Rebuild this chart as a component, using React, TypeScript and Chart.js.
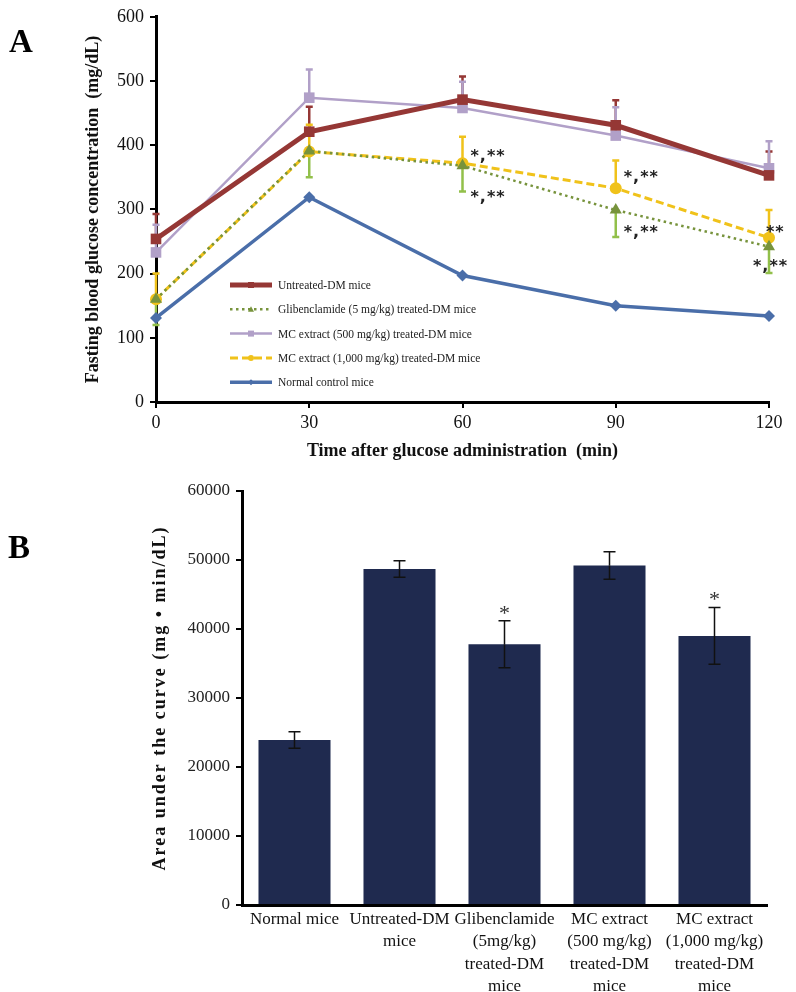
import React, { useEffect, useRef } from 'react';
import { Chart, registerables } from 'chart.js';

Chart.register(...registerables);

// ---------- Panel A data ----------
const timePoints = [0, 30, 60, 90, 120];
const untreatedDM = [254, 421, 471, 431, 353];
const untreatedErr = [39, 39, 36, 39, 37];
const glibenclamide = [160, 391, 368, 299, 242];
const glibErr = [40, 41, 40, 42, 41];
const mc500 = [233, 474, 458, 415, 364];
const mc500Err = [43, 44, 41, 44, 42];
const mc1000 = [160, 390, 372, 333, 256];
const mc1000Err = [40, 42, 41, 43, 43];
const normalControl = [131, 319, 197, 150, 134];
const glibSig = ['', '', '*,**', '*,**', '*,**'];
const mc1000Sig = ['', '', '*,**', '*,**', '**'];
const seriesLabels = [
  'Untreated-DM mice',
  'Glibenclamide (5 mg/kg) treated-DM mice',
  'MC extract (500 mg/kg) treated-DM mice',
  'MC extract (1,000 mg/kg) treated-DM mice',
  'Normal control mice',
];

// ---------- Panel B data ----------
const aucGroups = [
  ['Normal mice'],
  ['Untreated-DM', 'mice'],
  ['Glibenclamide', '(5mg/kg)', 'treated-DM', 'mice'],
  ['MC extract', '(500 mg/kg)', 'treated-DM', 'mice'],
  ['MC extract', '(1,000 mg/kg)', 'treated-DM', 'mice'],
];
const aucValues = [23900, 48700, 37800, 49200, 39000];
const aucErr = [1200, 1200, 3400, 2000, 4100];
const aucSig = ['', '', '*', '', '*'];

// ---------- styles ----------
const SERIF = '"Liberation Serif", "Times New Roman", serif';
const SANS = '"DejaVu Sans", sans-serif';
const RED = '#953735';
const GREEN = '#77933c';
const GREEN_ERR = '#92c04a';
const LAVENDER = '#b1a0c8';
const YELLOW = '#f0c21a';
const BLUE = '#4a6ea9';
const NAVY = '#1f2a4f';

const errorBarPlugin = {
  id: 'errorBars',
  beforeDatasetsDraw(chart: any) {
    drawErrors(chart, 'before');
  },
  afterDatasetsDraw(chart: any) {
    drawErrors(chart, 'after');
    drawSig(chart);
  },
};

function drawErrors(chart: any, phase: string) {
  const ctx = chart.ctx;
  const yScale = chart.scales.y;
  chart.data.datasets.forEach((ds: any, i: number) => {
    const eb = ds.errorBars;
    if (!eb || eb.phase !== phase) return;
    const meta = chart.getDatasetMeta(i);
    ctx.save();
    ctx.strokeStyle = eb.color;
    ctx.lineWidth = eb.width;
    ctx.setLineDash([]);
    meta.data.forEach((el: any, j: number) => {
      const v = ds.data[j];
      const val = typeof v === 'number' ? v : v.y;
      const e = eb.values[j];
      if (!e) return;
      const x = el.x;
      const ends: number[] = [];
      if (eb.dir === 'up' || eb.dir === 'both') ends.push(val + e);
      if (eb.dir === 'down' || eb.dir === 'both') ends.push(val - e);
      ends.forEach((end) => {
        const y0 = yScale.getPixelForValue(val);
        const y1 = yScale.getPixelForValue(end);
        ctx.beginPath();
        ctx.moveTo(x, y0);
        ctx.lineTo(x, y1);
        ctx.moveTo(x - eb.cap, y1);
        ctx.lineTo(x + eb.cap, y1);
        ctx.stroke();
      });
    });
    ctx.restore();
  });
}

function drawSig(chart: any) {
  const ctx = chart.ctx;
  const yScale = chart.scales.y;
  chart.data.datasets.forEach((ds: any, i: number) => {
    const s = ds.sigLabels;
    if (!s) return;
    const meta = chart.getDatasetMeta(i);
    ctx.save();
    ctx.font = s.font;
    ctx.fillStyle = s.color;
    ctx.textAlign = s.align;
    ctx.textBaseline = 'middle';
    (ctx as any).letterSpacing = s.letterSpacing || '0px';
    meta.data.forEach((el: any, j: number) => {
      const t = s.texts[j];
      if (!t) return;
      let y = el.y;
      if (s.anchor === 'errTop') {
        const v = ds.data[j];
        const val = typeof v === 'number' ? v : v.y;
        y = yScale.getPixelForValue(val + ds.errorBars.values[j]);
      }
      const off = s.offsets[j];
      ctx.fillText(t, el.x + off[0], y + off[1]);
    });
    ctx.restore();
  });
}

function drawMarker(ctx: any, style: string, x: number, y: number, r: number, color: string) {
  ctx.fillStyle = color;
  ctx.beginPath();
  if (style === 'rect') {
    ctx.rect(x - r, y - r, 2 * r, 2 * r);
  } else if (style === 'circle') {
    ctx.arc(x, y, r, 0, Math.PI * 2);
  } else if (style === 'triangle') {
    ctx.moveTo(x, y - r);
    ctx.lineTo(x + r, y + r * 0.8);
    ctx.lineTo(x - r, y + r * 0.8);
    ctx.closePath();
  } else if (style === 'rectRot') {
    ctx.moveTo(x, y - r);
    ctx.lineTo(x + r, y);
    ctx.lineTo(x, y + r);
    ctx.lineTo(x - r, y);
    ctx.closePath();
  }
  ctx.fill();
}

const insideLegend = {
  id: 'insideLegend',
  afterDraw(chart: any, _args: any, opts: any) {
    if (!opts || !opts.display) return;
    const ctx = chart.ctx;
    ctx.save();
    chart.data.datasets.forEach((ds: any, i: number) => {
      const y = opts.y + i * opts.rowGap;
      const x0 = opts.x;
      const x1 = opts.x + opts.lineLen;
      ctx.strokeStyle = ds.borderColor;
      ctx.lineWidth = ds.borderWidth;
      ctx.setLineDash(ds.borderDash || []);
      ctx.beginPath();
      ctx.moveTo(x0, y);
      ctx.lineTo(x1, y);
      ctx.stroke();
      ctx.setLineDash([]);
      drawMarker(ctx, ds.pointStyle, (x0 + x1) / 2, y, 3, ds.pointBackgroundColor);
      ctx.fillStyle = opts.color;
      ctx.font = opts.font;
      ctx.textAlign = 'left';
      ctx.textBaseline = 'middle';
      ctx.fillText(ds.label, x1 + opts.gap, y + 1);
    });
    ctx.restore();
  },
};

const rotatedTitle = {
  id: 'rotatedTitle',
  afterDraw(chart: any, _args: any, opts: any) {
    if (!opts || !opts.text) return;
    const ctx = chart.ctx;
    const ca = chart.chartArea;
    ctx.save();
    ctx.translate(opts.x, (ca.top + ca.bottom) / 2);
    ctx.rotate(-Math.PI / 2);
    ctx.font = opts.font;
    ctx.fillStyle = opts.color;
    ctx.textAlign = 'center';
    ctx.textBaseline = 'middle';
    (ctx as any).letterSpacing = opts.letterSpacing || '0px';
    ctx.fillText(opts.text, 0, 0);
    ctx.restore();
  },
};

function pts(vals: number[]) {
  return timePoints.map((t, i) => ({ x: t, y: vals[i] }));
}

const plainTick = (v: any) => String(v);

export default function App() {
  const refA = useRef<HTMLCanvasElement>(null);
  const refB = useRef<HTMLCanvasElement>(null);

  useEffect(() => {
    const tickFont = { family: SERIF, size: 18 };
    const sigFont = `bold 16px ${SANS}`;
    const chartA = new Chart(refA.current as HTMLCanvasElement, {
      type: 'line',
      data: {
        datasets: [
          {
            label: seriesLabels[0],
            data: pts(untreatedDM),
            borderColor: RED,
            backgroundColor: RED,
            borderWidth: 5,
            pointStyle: 'rect',
            pointRadius: 7.5,
            pointBackgroundColor: RED,
            pointBorderWidth: 0,
            tension: 0,
            clip: false,
            errorBars: { values: untreatedErr, dir: 'up', color: RED, width: 2.5, cap: 3.5, phase: 'before' },
          },
          {
            label: seriesLabels[1],
            data: pts(glibenclamide),
            borderColor: GREEN,
            backgroundColor: GREEN,
            borderWidth: 2.5,
            borderDash: [2.5, 3.5],
            pointStyle: 'triangle',
            pointRadius: 7,
            pointBackgroundColor: GREEN,
            pointBorderWidth: 0,
            tension: 0,
            clip: false,
            errorBars: { values: glibErr, dir: 'down', color: GREEN_ERR, width: 2.5, cap: 3.5, phase: 'before' },
            sigLabels: {
              texts: glibSig,
              offsets: [[0, 0], [0, 0], [8, 32], [8, 23], [-16, 20]],
              font: sigFont,
              letterSpacing: '1px',
              color: '#222',
              align: 'left',
              anchor: 'point',
            },
          },
          {
            label: seriesLabels[2],
            data: pts(mc500),
            borderColor: LAVENDER,
            backgroundColor: LAVENDER,
            borderWidth: 2.5,
            pointStyle: 'rect',
            pointRadius: 7.5,
            pointBackgroundColor: LAVENDER,
            pointBorderWidth: 0,
            tension: 0,
            clip: false,
            errorBars: { values: mc500Err, dir: 'up', color: LAVENDER, width: 2.5, cap: 3.5, phase: 'before' },
          },
          {
            label: seriesLabels[3],
            data: pts(mc1000),
            borderColor: YELLOW,
            backgroundColor: YELLOW,
            borderWidth: 3,
            borderDash: [8, 4],
            pointStyle: 'circle',
            pointRadius: 6,
            pointBackgroundColor: YELLOW,
            pointBorderWidth: 0,
            tension: 0,
            clip: false,
            errorBars: { values: mc1000Err, dir: 'up', color: YELLOW, width: 2.5, cap: 3.5, phase: 'before' },
            sigLabels: {
              texts: mc1000Sig,
              offsets: [[0, 0], [0, 0], [8, -6], [8, -10], [-3, -5]],
              font: sigFont,
              letterSpacing: '1px',
              color: '#222',
              align: 'left',
              anchor: 'point',
            },
          },
          {
            label: seriesLabels[4],
            data: pts(normalControl),
            borderColor: BLUE,
            backgroundColor: BLUE,
            borderWidth: 3.5,
            pointStyle: 'rectRot',
            pointRadius: 6,
            pointBackgroundColor: BLUE,
            pointBorderWidth: 0,
            tension: 0,
            clip: false,
          },
        ] as any,
      },
      options: {
        animation: false,
        responsive: false,
        layout: { padding: { left: 0, right: 27, top: 13, bottom: 0 } },
        plugins: {
          legend: { display: false },
          tooltip: { enabled: false },
          insideLegend: {
            display: true,
            x: 230,
            y: 285,
            rowGap: 24.3,
            lineLen: 42,
            gap: 6,
            font: `11.5px ${SERIF}`,
            color: '#222',
          },
        } as any,
        scales: {
          x: {
            type: 'linear',
            min: 0,
            max: 120,
            ticks: { stepSize: 30, font: tickFont, color: '#111', padding: 4, callback: plainTick },
            grid: { drawOnChartArea: false, drawTicks: true, tickLength: 6, color: '#000', lineWidth: 2 },
            border: { color: '#000', width: 3 },
            title: {
              display: true,
              text: 'Time after glucose administration  (min)',
              font: { family: SERIF, size: 18, weight: 'bold' },
              color: '#111',
              padding: { top: 0, bottom: 8 },
            },
            afterFit: (s: any) => {
              s.height = 68;
            },
          },
          y: {
            min: 0,
            max: 600,
            ticks: { stepSize: 100, font: tickFont, color: '#111', padding: 6, callback: plainTick },
            grid: { drawOnChartArea: false, drawTicks: true, tickLength: 6, color: '#000', lineWidth: 2 },
            border: { color: '#000', width: 3 },
            title: {
              display: true,
              text: 'Fasting blood glucose concentration  (mg/dL)',
              font: { family: SERIF, size: 18, weight: 'bold' },
              color: '#111',
              padding: { top: 83, bottom: 0 },
            },
            afterFit: (s: any) => {
              s.width = 156;
            },
          },
        } as any,
      },
      plugins: [errorBarPlugin, insideLegend],
    });

    const chartB = new Chart(refB.current as HTMLCanvasElement, {
      type: 'bar',
      data: {
        labels: aucGroups,
        datasets: [
          {
            data: aucValues,
            backgroundColor: NAVY,
            barPercentage: 0.686,
            categoryPercentage: 1,
            errorBars: { values: aucErr, dir: 'both', color: '#111', width: 1.5, cap: 6, phase: 'after' },
            sigLabels: {
              texts: aucSig,
              offsets: [[0, -7], [0, -7], [0, -7], [0, -7], [0, -7]],
              font: `22px ${SERIF}`,
              color: '#333',
              align: 'center',
              anchor: 'errTop',
            },
          } as any,
        ],
      },
      options: {
        animation: false,
        responsive: false,
        layout: { padding: { left: 0, right: 29, top: 21, bottom: 0 } },
        plugins: {
          legend: { display: false },
          tooltip: { enabled: false },
          rotatedTitle: {
            text: 'Area under the curve (mg \u2022 min/dL)',
            x: 160,
            font: `bold 18px ${SERIF}`,
            letterSpacing: '2px',
            color: '#111',
          },
        } as any,
        scales: {
          x: {
            grid: { display: false, drawTicks: false },
            border: { color: '#000', width: 3 },
            ticks: {
              font: { family: SERIF, size: 17, lineHeight: 1.32 },
              color: '#111',
              padding: 3,
              maxRotation: 0,
              autoSkip: false,
            },
            afterFit: (s: any) => {
              s.height = 87;
            },
          },
          y: {
            min: 0,
            max: 60000,
            ticks: { stepSize: 10000, font: { family: SERIF, size: 17 }, color: '#222', padding: 6, callback: plainTick },
            grid: { drawOnChartArea: false, drawTicks: true, tickLength: 6, color: '#000', lineWidth: 2 },
            border: { color: '#000', width: 3 },
            afterFit: (s: any) => {
              s.width = 242;
            },
          },
        } as any,
      },
      plugins: [errorBarPlugin, rotatedTitle],
    });

    return () => {
      chartA.destroy();
      chartB.destroy();
    };
  }, []);

  const letter: React.CSSProperties = {
    position: 'absolute',
    fontFamily: SERIF,
    fontWeight: 'bold',
    fontSize: 33,
    lineHeight: 1,
    color: '#000',
  };

  return (
    <div style={{ position: 'absolute', left: 0, top: 0, width: 796, height: 992, background: '#fff' }}>
      <canvas ref={refA} width={796} height={470} style={{ position: 'absolute', left: 0, top: 0 }} />
      <canvas ref={refB} width={796} height={522} style={{ position: 'absolute', left: 0, top: 470 }} />
      <div style={{ ...letter, left: 9, top: 25 }}>A</div>
      <div style={{ ...letter, left: 8, top: 531 }}>B</div>
    </div>
  );
}
